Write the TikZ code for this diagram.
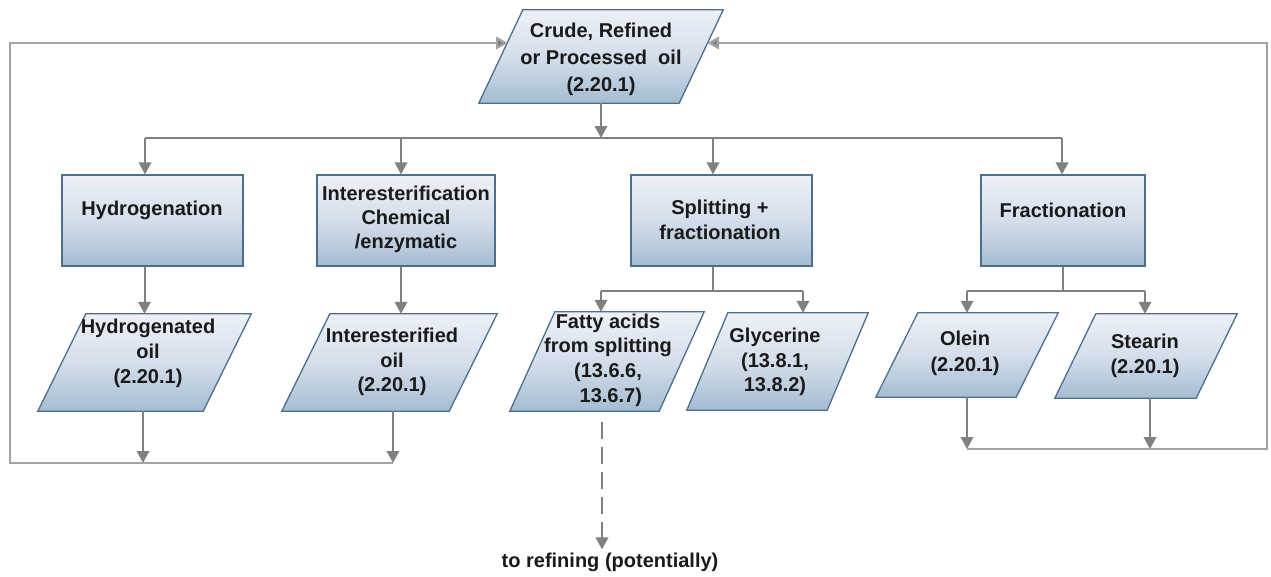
\documentclass[tikz,border=0pt]{standalone}
\usepackage{fontspec}
\setmainfont{Liberation Sans}
\usetikzlibrary{arrows.meta,calc}
\definecolor{bordc}{HTML}{4E6E8E}
\definecolor{ftop}{HTML}{EDF1F8}
\definecolor{fmid}{HTML}{D4DEEA}
\definecolor{fbot}{HTML}{A5BCD2}
\definecolor{arrc}{HTML}{808080}
\definecolor{loopc}{HTML}{A3A3A3}
\definecolor{txtc}{HTML}{1A1A1A}
\tikzset{
  shapefill/.style={draw=bordc, line width=1.3pt, top color=ftop, bottom color=fbot, middle color=fmid},
  boxnode/.style={shapefill, rectangle, inner sep=0pt},
  pnode/.style={draw=none, rectangle, inner sep=0pt},
  txt/.style={text=txtc, align=center, inner sep=0pt, font=\bfseries\fontsize{20}{24.5}\selectfont},
  arr/.style={draw=arrc, line width=2pt, -{Triangle[width=12.5pt,length=12pt]}},
  ln/.style={draw=arrc, line width=2pt},
  fb/.style={draw=loopc, line width=2.2pt, -{Triangle[width=12.5pt,length=12pt,fill=arrc]}},
}
\newcommand\drawpara[2]{%
  \path[shapefill] ([xshift=#2]#1.north west) -- (#1.north east) -- ([xshift=-#2]#1.south east) -- (#1.south west) -- cycle;}
\begin{document}
\begin{tikzpicture}[x=1pt,y=-1pt]
\useasboundingbox[fill=white] (0,0) rectangle (1271,576);

% ---------- shapes ----------
\node[pnode, minimum width=244pt, minimum height=93pt] (crude) at (601,56.5) {};
\drawpara{crude}{44pt}

\node[boxnode, minimum width=181pt, minimum height=91pt] (hyd) at (152.5,220.5) {};
\node[boxnode, minimum width=178pt, minimum height=91pt] (inter) at (406,220.5) {};
\node[boxnode, minimum width=181pt, minimum height=91pt] (split) at (721.5,220.5) {};
\node[boxnode, minimum width=164pt, minimum height=91pt] (frac) at (1063,220.5) {};

\node[pnode, minimum width=213pt, minimum height=97pt] (hydoil) at (144.5,362.5) {};
\drawpara{hydoil}{48pt}
\node[pnode, minimum width=215pt, minimum height=97pt] (interoil) at (389.5,362.5) {};
\drawpara{interoil}{48pt}
\node[pnode, minimum width=194pt, minimum height=99pt] (fatty) at (607,361.5) {};
\drawpara{fatty}{45pt}
\node[pnode, minimum width=181pt, minimum height=97pt] (glyc) at (777.5,361.5) {};
\drawpara{glyc}{41pt}
\node[pnode, minimum width=182pt, minimum height=84pt] (olein) at (967,355) {};
\drawpara{olein}{42pt}
\node[pnode, minimum width=182pt, minimum height=84pt] (stearin) at (1146,356) {};
\drawpara{stearin}{41pt}

% ---------- texts ----------
\node[txt, font=\bfseries\fontsize{20}{27}\selectfont] (crudet) at (601,59) {Crude, Refined\\or Processed\ \ oil\\(2.20.1)};
\node[txt] (hydt) at (152,210) {Hydrogenation};
\node[txt, font=\bfseries\fontsize{20}{24}\selectfont] (intert) at (406,219) {Interesterification\\Chemical\\/enzymatic};
\node[txt] (splitt) at (720,220) {Splitting +\\fractionation};
\node[txt] (fract) at (1063,210) {Fractionation};
\node[txt, font=\bfseries\fontsize{20}{25}\selectfont] (hydoilt) at (148,353) {Hydrogenated\\oil\\(2.20.1)};
\node[txt] (interoilt) at (392,362) {Interesterified\\oil\\(2.20.1)};
\node[txt, font=\bfseries\fontsize{20}{24.7}\selectfont] (fattyt) at (608,360) {Fatty acids\\from splitting\\(13.6.6,\\\ 13.6.7)};
\node[txt] (glyct) at (775,362) {Glycerine\\(13.8.1,\\13.8.2)};
\node[txt, font=\bfseries\fontsize{20}{26}\selectfont] (oleint) at (965,353.5) {Olein\\(2.20.1)};
\node[txt, font=\bfseries\fontsize{20}{25}\selectfont] (stearint) at (1145,355.5) {Stearin\\(2.20.1)};
\node[txt, inner sep=3pt] (reft) at (610,562) {to refining (potentially)};

% ---------- coordinates ----------
\coordinate (busL) at (145,138);
\coordinate (busR) at (1062,138);
\coordinate (b2) at (401,138);
\coordinate (b3) at (713,138);
\coordinate (sL) at (601,291);
\coordinate (sR) at (803,291);
\coordinate (fL) at (967,291);
\coordinate (fR) at (1145,291);
\coordinate (lb1) at (143,463);
\coordinate (lb2) at (393,463);
\coordinate (L) at (10,463);
\coordinate (LT) at (10,43);
\coordinate (cinL) at (508,43);
\coordinate (rb1) at (967,449);
\coordinate (rb2) at (1150,449);
\coordinate (R) at (1267,449);
\coordinate (RT) at (1267,43);
\coordinate (cinR) at (707,43);
\coordinate (dtop) at (602,422);

% ---------- connectors ----------
\draw[arr] (crude.south) -- (crude.south |- busL);
\draw[ln] (busL) -- (busR);
\draw[arr] (busL) -- (busL |- hyd.north);
\draw[arr] (b2) -- (b2 |- inter.north);
\draw[arr] (b3) -- (b3 |- split.north);
\draw[arr] (busR) -- (busR |- frac.north);

\draw[arr] (hyd.south -| hydoil.north) -- (hydoil.north);
\draw[arr] (inter.south -| b2) -- (interoil.north -| b2);

\draw[ln] (split.south -| b3) -- (sL -| b3);
\draw[ln] (sL) -- (sR);
\draw[arr] (sL) -- (sL |- fatty.north);
\draw[arr] (sR) -- (sR |- glyc.north);

\draw[ln] (frac.south) -- (frac.south |- fL);
\draw[ln] (fL) -- (fR);
\draw[arr] (fL) -- (fL |- olein.north);
\draw[arr] (fR) -- (fR |- stearin.north);

\draw[arr] (hydoil.south -| lb1) -- (lb1);
\draw[arr] (interoil.south -| lb2) -- (lb2);
\draw[fb] (lb2) -- (L) -- (LT) -- (cinL);

\draw[arr] (olein.south -| rb1) -- (rb1);
\draw[arr] (stearin.south -| rb2) -- (rb2);
\draw[fb] (rb1) -- (R) -- (RT) -- (cinR);

\draw[arr, dash pattern=on 17pt off 8pt] (dtop) -- (reft.north -| dtop);
\end{tikzpicture}
\end{document}
